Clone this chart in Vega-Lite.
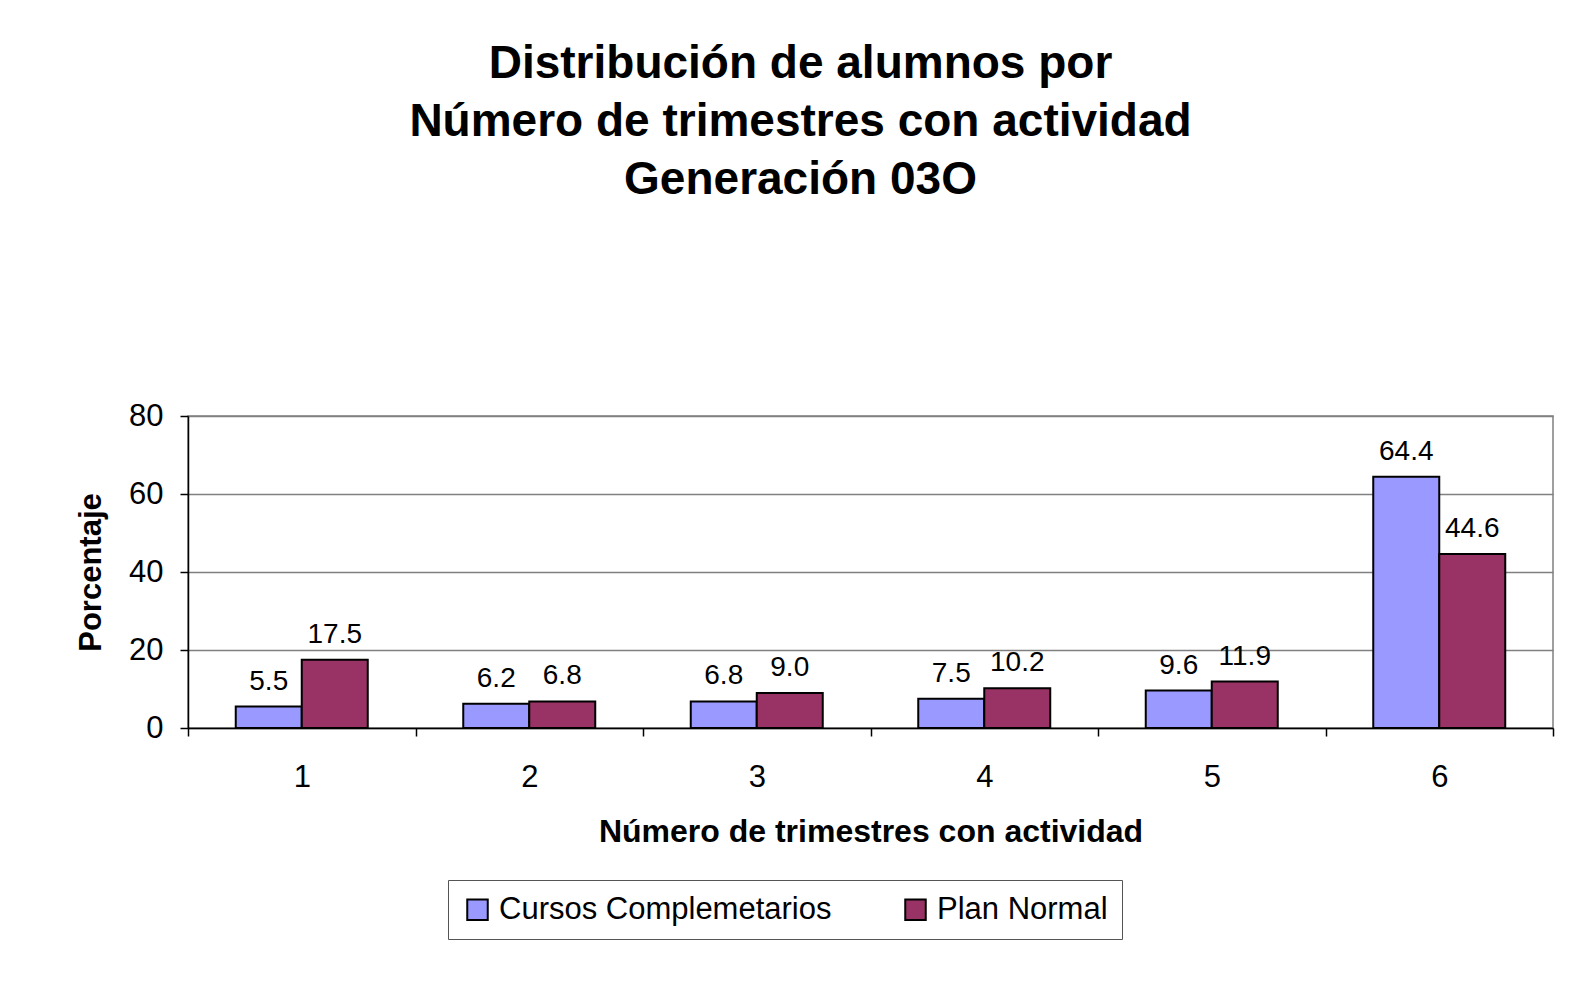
{
  "$schema": "https://vega.github.io/schema/vega-lite/v6.json",
  "width": 1365,
  "height": 312,
  "autosize": {"type": "none"},
  "padding": {"left": 188, "top": 416, "right": 16, "bottom": 275},
  "background": "white",
  "config": {
    "font": "Liberation Sans",
    "view": {"stroke": "#808080", "strokeWidth": 1.5}
  },
  "title": {
    "text": ["Distribución de alumnos por", "Número de trimestres con actividad", "Generación 03O"],
    "fontSize": 46,
    "fontWeight": "bold",
    "color": "black",
    "lineHeight": 58,
    "anchor": "middle",
    "frame": "group",
    "dx": -70,
    "offset": 196
  },
  "data": {
    "values": [
      {"trimestres": "1", "serie": "Cursos Complemetarios", "pct": 5.5},
      {"trimestres": "1", "serie": "Plan Normal", "pct": 17.5},
      {"trimestres": "2", "serie": "Cursos Complemetarios", "pct": 6.2},
      {"trimestres": "2", "serie": "Plan Normal", "pct": 6.8},
      {"trimestres": "3", "serie": "Cursos Complemetarios", "pct": 6.8},
      {"trimestres": "3", "serie": "Plan Normal", "pct": 9.0},
      {"trimestres": "4", "serie": "Cursos Complemetarios", "pct": 7.5},
      {"trimestres": "4", "serie": "Plan Normal", "pct": 10.2},
      {"trimestres": "5", "serie": "Cursos Complemetarios", "pct": 9.6},
      {"trimestres": "5", "serie": "Plan Normal", "pct": 11.9},
      {"trimestres": "6", "serie": "Cursos Complemetarios", "pct": 64.4},
      {"trimestres": "6", "serie": "Plan Normal", "pct": 44.6}
    ]
  },
  "encoding": {
    "x": {
      "field": "trimestres",
      "type": "ordinal",
      "scale": {"paddingInner": 0, "paddingOuter": 0},
      "axis": {
        "title": "Número de trimestres con actividad",
        "titleFontSize": 32,
        "titleFontWeight": "bold",
        "titleColor": "black",
        "titleBaseline": "alphabetic",
        "titleY": 113,
        "labelAngle": 0,
        "labelFontSize": 31,
        "labelColor": "black",
        "labelPadding": 26,
        "tickBand": "extent",
        "tickSize": 8,
        "tickColor": "black",
        "tickWidth": 1.5,
        "domainColor": "black",
        "domainWidth": 1.5,
        "grid": false
      }
    },
    "xOffset": {
      "field": "serie",
      "sort": ["Cursos Complemetarios", "Plan Normal"],
      "scale": {"paddingInner": 0, "paddingOuter": 0.7235}
    },
    "y": {
      "field": "pct",
      "type": "quantitative",
      "scale": {"domain": [0, 80]},
      "axis": {
        "title": "Porcentaje",
        "titleFontSize": 31,
        "titleFontWeight": "bold",
        "titleColor": "black",
        "titleAngle": 270,
        "titleBaseline": "alphabetic",
        "titleX": -88,
        "titleY": 156,
        "values": [0, 20, 40, 60, 80],
        "labelFontSize": 31,
        "labelColor": "black",
        "labelPadding": 17,
        "tickSize": 8,
        "tickColor": "black",
        "tickWidth": 1.5,
        "domainColor": "black",
        "domainWidth": 1.5,
        "gridColor": "#808080",
        "gridWidth": 1.5
      }
    }
  },
  "layer": [
    {
      "mark": {"type": "bar", "stroke": "black", "strokeWidth": 2},
      "encoding": {
        "color": {
          "field": "serie",
          "type": "nominal",
          "scale": {"domain": ["Cursos Complemetarios", "Plan Normal"], "range": ["#9999FF", "#993366"]},
          "legend": {
            "title": null,
            "orient": "none",
            "legendX": 260,
            "legendY": 464,
            "direction": "horizontal",
            "symbolType": "square",
            "symbolSize": 420,
            "symbolStrokeColor": "black",
            "symbolStrokeWidth": 2,
            "symbolOpacity": 1,
            "labelFontSize": 31,
            "labelColor": "black",
            "labelOffset": 6,
            "labelLimit": 600,
            "columnPadding": 68,
            "padding": 14,
            "strokeColor": "#555555",
            "fillColor": "white"
          }
        }
      }
    },
    {
      "mark": {"type": "text", "baseline": "alphabetic", "dy": -17, "fontSize": 28, "color": "black"},
      "encoding": {"text": {"field": "pct", "type": "quantitative", "format": ".1f"}}
    }
  ]
}
